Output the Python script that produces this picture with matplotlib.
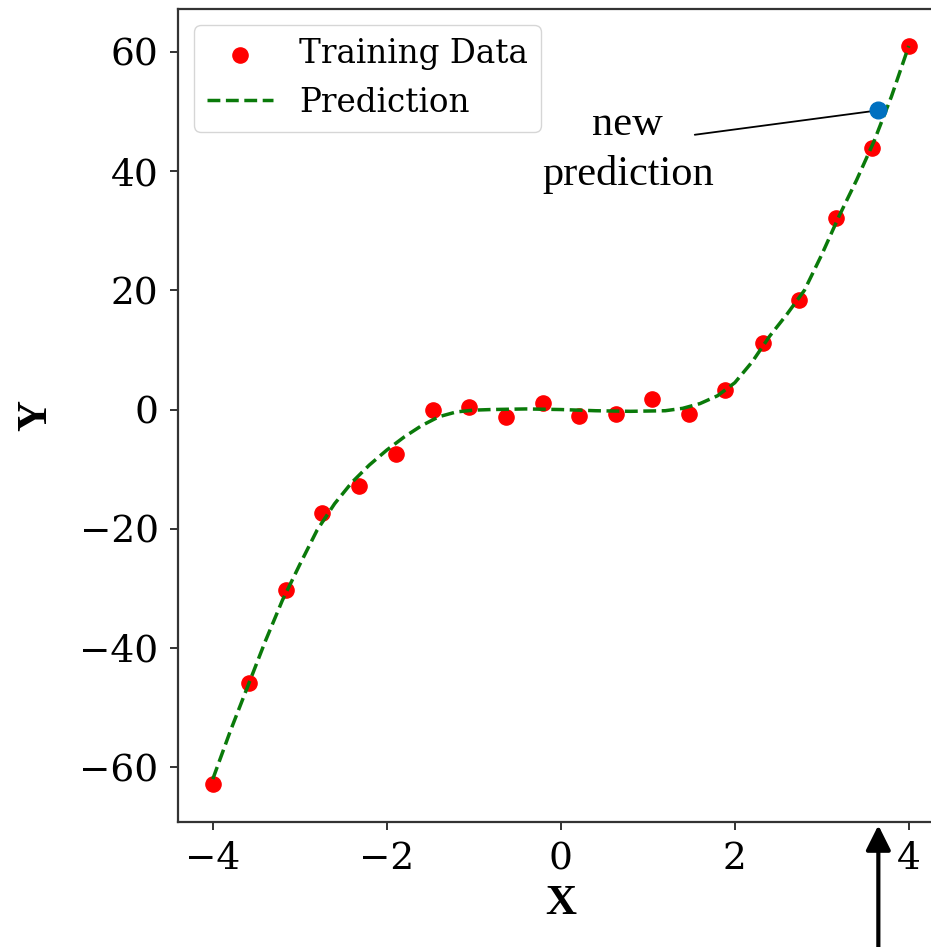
import matplotlib
matplotlib.use("Agg")
import matplotlib.pyplot as plt

# Training samples
train_x = [-4.00, -3.58, -3.16, -2.74, -2.32, -1.89, -1.47, -1.05, -0.63, -0.21,
           0.21, 0.63, 1.05, 1.47, 1.89, 2.32, 2.74, 3.16, 3.58, 4.00]
train_y = [-62.8, -45.9, -30.2, -17.3, -12.9, -7.4, -0.1, 0.5, -1.2, 1.1,
           -1.1, -0.7, 1.8, -0.7, 3.2, 11.2, 18.4, 32.1, 43.8, 61.0]

# Model prediction curve
pred_x = [-4.0, -3.8, -3.6, -3.4, -3.2, -3.0, -2.8, -2.6, -2.4, -2.2, -2.0, -1.8,
          -1.6, -1.4, -1.2, -1.0, -0.8, -0.4, 0.0, 0.4, 0.8, 1.2, 1.4, 1.6, 1.8,
          2.0, 2.2, 2.4, 2.6, 2.8, 3.0, 3.2, 3.4, 3.6, 3.8, 4.0]
pred_y = [-62.0, -54.0, -46.5, -39.0, -32.0, -26.0, -20.2, -15.8, -12.2, -9.3, -6.8, -4.6,
          -2.7, -1.2, -0.4, -0.1, 0.0, 0.1, 0.0, -0.2, -0.3, -0.2, 0.2, 1.0, 2.3,
          4.5, 8.0, 12.3, 16.0, 20.0, 26.0, 32.5, 38.5, 45.0, 52.5, 61.0]

# Query point
new_x = 3.65
new_y = 50.2

x_ticks = [-4, -2, 0, 2, 4]
y_ticks = [-60, -40, -20, 0, 20, 40, 60]

W, H = 931, 947
fig = plt.figure(figsize=(W / 100, H / 100), dpi=100)
ax = fig.add_axes([178 / W, (H - 822) / H, 765.6 / W, 813 / H])

ax.scatter(train_x, train_y, s=120, color="#ff0000", zorder=2, label="Training Data")
ax.plot(pred_x, pred_y, linestyle="--", color="#0a7a0a", linewidth=2.5, zorder=3,
        label="Prediction")
ax.plot([new_x], [new_y], "o", color="#0070c0", markersize=12, zorder=5)

ax.set_xlim(-4.4, 4.4)
ax.set_ylim(-69.2, 67.2)
ax.set_xticks(x_ticks)
ax.set_yticks(y_ticks)

for lab in ax.get_xticklabels() + ax.get_yticklabels():
    lab.set_fontfamily("DejaVu Serif")
    lab.set_fontsize(27)
ax.tick_params(axis="both", direction="out", length=6, width=1.3, color="#222222", pad=8)

for sp in ax.spines.values():
    sp.set_linewidth(1.6)
    sp.set_color("#333333")

label_font = {"family": "Liberation Serif", "size": 31, "weight": "bold"}
ax.set_xlabel("X", fontdict=label_font)
ax.set_ylabel("Y", fontdict=label_font)
ax.xaxis.set_label_coords(0.5, -0.078)
ax.yaxis.set_label_coords(-0.16, 0.5)

ax.legend(loc="upper left", prop={"family": "DejaVu Serif", "size": 23.5},
          scatterpoints=1, borderaxespad=0.5)

# Callout for the query point
text_x = 0.77
ann_font = {"family": "Liberation Serif", "size": 30.5}
ax.text(text_x, 46.1, "new", ha="center", va="baseline", fontdict=ann_font)
ax.text(text_x, 37.75, "prediction", ha="center", va="baseline", fontdict=ann_font)
ax.annotate("", xy=(new_x, new_y), xytext=(1.54, 46.1),
            arrowprops=dict(arrowstyle="-", lw=1.3, color="black",
                            shrinkA=0, shrinkB=0), zorder=4)

# Arrow marking the query position on the x axis
ax.annotate("", xy=(new_x, -0.004), xycoords=("data", "axes fraction"),
            xytext=(new_x, -0.17), textcoords=("data", "axes fraction"),
            arrowprops=dict(arrowstyle="-|>,head_length=0.6,head_width=0.3",
                            lw=3.0, color="black", mutation_scale=25,
                            shrinkA=0, shrinkB=0),
            annotation_clip=False)

fig.savefig("out.png", dpi=100)
